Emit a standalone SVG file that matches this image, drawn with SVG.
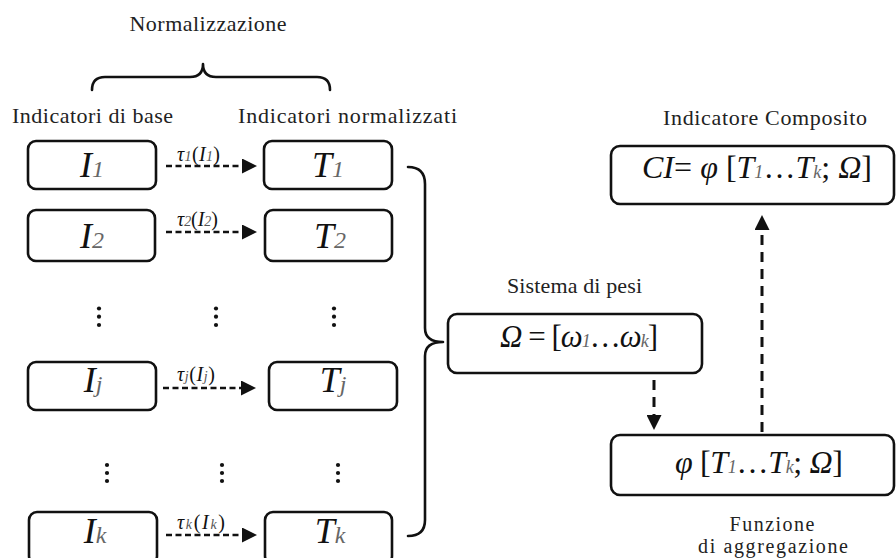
<svg xmlns="http://www.w3.org/2000/svg" width="896" height="558" viewBox="0 0 896 558">
  <style>
    .lbl{font-family:"Liberation Serif","Times New Roman",serif;font-size:22px;fill:#222}
    .cap{font-size:20px}
    .box{fill:#fff;stroke:#111;stroke-width:2.6}
    .m{font-family:"Liberation Serif","Times New Roman",serif;font-style:italic;fill:#111}
    .big{font-size:36px}
    .sub{font-size:24px;fill:#666}
    .fs{font-size:18px;fill:#666}
    .up{font-style:normal}
    .tau{font-size:20px}
    .tsub{font-size:14px;fill:#555}
    .dash-h{stroke:#111;stroke-width:2.6;stroke-dasharray:6 3.5;fill:none}
    .dash-v{stroke:#111;stroke-width:3;stroke-dasharray:10 7;fill:none}
    .brace{fill:none;stroke:#111;stroke-width:2.6;stroke-linecap:round;stroke-linejoin:round}
    .dot{fill:#111}
  </style>
  <defs>
    <marker id="ah" markerUnits="userSpaceOnUse" markerWidth="15" markerHeight="15" refX="0" refY="7.5" orient="auto">
      <path d="M0,0 L15,7.5 L0,15 z" fill="#111"/>
    </marker>
  </defs>

  <!-- headings -->
  <g id="headings">
    <text class="lbl" x="208" y="31" text-anchor="middle" textLength="157">Normalizzazione</text>
    <text class="lbl" x="12" y="123" textLength="161">Indicatori di base</text>
    <text class="lbl" x="238" y="123" textLength="219">Indicatori normalizzati</text>
    <text class="lbl" x="663" y="125" textLength="204">Indicatore Composito</text>
    <text class="lbl" x="507" y="293" textLength="135">Sistema di pesi</text>
    <text class="lbl cap" x="772" y="531" text-anchor="middle" textLength="85">Funzione</text>
    <text class="lbl cap" x="773" y="553" text-anchor="middle" textLength="150">di aggregazione</text>
  </g>

  <!-- braces -->
  <g id="braces">
    <path class="brace" d="M92,90 Q92,77 105,77 L190,77 Q203,77 203,64 Q203,77 216,77 L317,77 Q330,77 330,90"/>
    <path class="brace" d="M408,167 Q425,167 425,184 L425,328 Q425,342 443,342 Q425,342 425,356 L425,520 Q425,536 408,536"/>
  </g>

  <!-- base indicators -->
  <g id="I1"><rect class="box" x="28" y="141" width="128" height="48" rx="8"/>
    <text class="m big" x="92" y="177" text-anchor="middle">I<tspan class="sub">1</tspan></text></g>
  <g id="I2"><rect class="box" x="28" y="210" width="127" height="51" rx="8"/>
    <text class="m big" x="92" y="248" text-anchor="middle">I<tspan class="sub">2</tspan></text></g>
  <g id="Ij"><rect class="box" x="28" y="362" width="128" height="48" rx="8"/>
    <text class="m big" x="93" y="392" text-anchor="middle">I<tspan class="sub">j</tspan></text></g>
  <g id="Ik"><rect class="box" x="29" y="512" width="128" height="52" rx="8"/>
    <text class="m big" x="95" y="543" text-anchor="middle">I<tspan class="sub">k</tspan></text></g>

  <!-- normalised indicators -->
  <g id="T1"><rect class="box" x="264" y="141" width="128" height="48" rx="8"/>
    <text class="m big" x="328" y="177" text-anchor="middle">T<tspan class="sub">1</tspan></text></g>
  <g id="T2"><rect class="box" x="265" y="210" width="127" height="51" rx="8"/>
    <text class="m big" x="330" y="248" text-anchor="middle">T<tspan class="sub">2</tspan></text></g>
  <g id="Tj"><rect class="box" x="269" y="362" width="128" height="48" rx="8"/>
    <text class="m big" x="333" y="392" text-anchor="middle">T<tspan class="sub">j</tspan></text></g>
  <g id="Tk"><rect class="box" x="265" y="512" width="127" height="52" rx="8"/>
    <text class="m big" x="330" y="543" text-anchor="middle">T<tspan class="sub">k</tspan></text></g>

  <!-- vertical ellipses -->
  <g id="ellipses">
    <circle class="dot" cx="99" cy="308.5" r="2.1"/><circle class="dot" cx="99" cy="316.7" r="2.1"/><circle class="dot" cx="99" cy="325" r="2.1"/>
    <circle class="dot" cx="216" cy="308.5" r="2.1"/><circle class="dot" cx="216" cy="316.7" r="2.1"/><circle class="dot" cx="216" cy="325" r="2.1"/>
    <circle class="dot" cx="334" cy="308.5" r="2.1"/><circle class="dot" cx="334" cy="316.7" r="2.1"/><circle class="dot" cx="334" cy="325" r="2.1"/>
    <circle class="dot" cx="107" cy="465" r="2.1"/><circle class="dot" cx="107" cy="473" r="2.1"/><circle class="dot" cx="107" cy="481" r="2.1"/>
    <circle class="dot" cx="222" cy="465" r="2.1"/><circle class="dot" cx="222" cy="473" r="2.1"/><circle class="dot" cx="222" cy="481" r="2.1"/>
    <circle class="dot" cx="338" cy="465" r="2.1"/><circle class="dot" cx="338" cy="473" r="2.1"/><circle class="dot" cx="338" cy="481" r="2.1"/>
  </g>

  <!-- weights, aggregation, composite -->
  <g id="Omega"><rect class="box" x="448" y="314" width="254" height="59" rx="9"/>
    <text class="m" font-size="31" x="500" y="347" textLength="158">Ω<tspan class="up"> = [</tspan>ω<tspan class="fs">1</tspan><tspan class="up">…</tspan>ω<tspan class="fs">k</tspan><tspan class="up">]</tspan></text></g>
  <g id="Phi"><rect class="box" x="611" y="435" width="283" height="60" rx="9"/>
    <text class="m" font-size="32" x="675" y="473" textLength="168">φ<tspan class="up"> [</tspan>T<tspan class="fs">1</tspan><tspan class="up">…</tspan>T<tspan class="fs">k</tspan><tspan class="up">; </tspan>Ω<tspan class="up">]</tspan></text></g>
  <g id="CI"><rect class="box" x="611" y="146" width="283" height="58" rx="9"/>
    <text class="m" font-size="32" x="642" y="178" textLength="230">CI<tspan class="up">= </tspan>φ<tspan class="up"> [</tspan>T<tspan class="fs">1</tspan><tspan class="up">…</tspan>T<tspan class="fs">k</tspan><tspan class="up">; </tspan>Ω<tspan class="up">]</tspan></text></g>

  <!-- connectors -->
  <g id="connectors">
    <line class="dash-h" x1="166" y1="166" x2="242" y2="166" marker-end="url(#ah)"/>
    <line class="dash-h" x1="166" y1="232" x2="242" y2="232" marker-end="url(#ah)"/>
    <line class="dash-h" x1="163" y1="388" x2="241" y2="388" marker-end="url(#ah)"/>
    <line class="dash-h" x1="166" y1="535" x2="242" y2="535" marker-end="url(#ah)"/>
    <line class="dash-v" x1="762" y1="432" x2="762" y2="230" marker-end="url(#ah)"/>
    <line class="dash-v" x1="654" y1="380" x2="654" y2="415" marker-end="url(#ah)"/>
    <text class="m tau" x="177" y="161" textLength="43">τ<tspan class="tsub">1</tspan><tspan class="up">(</tspan>I<tspan class="tsub">1</tspan><tspan class="up">)</tspan></text>
    <text class="m tau" x="177" y="226" textLength="41">τ<tspan class="tsub">2</tspan><tspan class="up">(</tspan>I<tspan class="tsub">2</tspan><tspan class="up">)</tspan></text>
    <text class="m tau" x="177" y="381" textLength="38">τ<tspan class="tsub">j</tspan><tspan class="up">(</tspan>I<tspan class="tsub">j</tspan><tspan class="up">)</tspan></text>
    <text class="m tau" x="177" y="529" textLength="48">τ<tspan class="tsub">k</tspan><tspan class="up">(</tspan>I<tspan class="tsub">k</tspan><tspan class="up">)</tspan></text>
  </g>
</svg>
